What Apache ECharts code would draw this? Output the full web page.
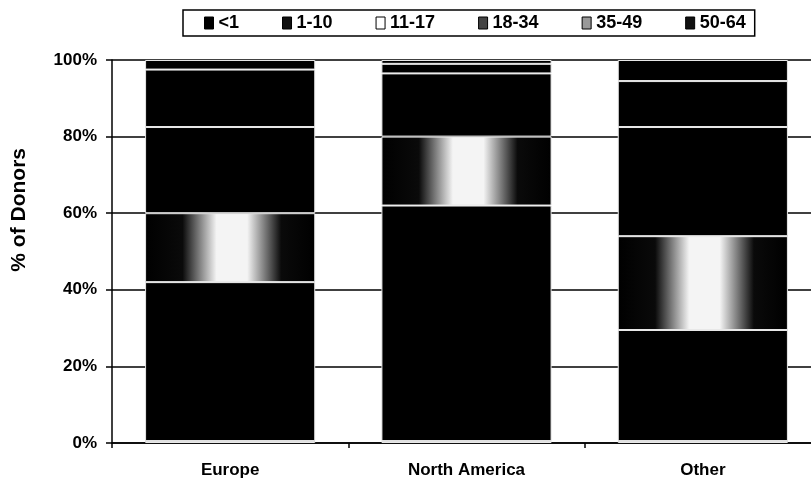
<!DOCTYPE html>
<html><head><meta charset="utf-8">
<script src="https://cdn.jsdelivr.net/npm/echarts@6/dist/echarts.min.js"></script>
<style>html,body{margin:0;padding:0;background:#fff}#c{width:811px;height:480px}</style>
</head><body><div id="c"></div>
<script>
const categories = ['Europe', 'North America', 'Other'];
const seriesNames = ['<1', '1-10', '11-17', '18-34', '35-49', '50-64'];
const lt1 = [0.5, 0.5, 0.5];
const s1to10 = [41.5, 61.5, 29];
const s11to17 = [18, 18, 24.5];
const s18to34 = [22.5, 16.5, 28.5];
const s35to49 = [15, 2.5, 12];
const s50to64 = [2.5, 1, 5.5];
const yTicks = [0, 20, 40, 60, 80, 100];
const yTitle = '% of Donors';

const values = [lt1, s1to10, s11to17, s18to34, s35to49, s50to64];
const grad = new echarts.graphic.LinearGradient(0, 0, 1, 0, [
  {offset: 0, color: '#000'}, {offset: 0.22, color: '#0a0a0a'},
  {offset: 0.42, color: '#f4f4f4'}, {offset: 0.6, color: '#f4f4f4'},
  {offset: 0.8, color: '#0a0a0a'}, {offset: 1, color: '#000'}
]);
const fills = ['#000', '#000', grad, '#000', '#000', '#000'];
const legendIcons = ['#000', '#111', '#fff', '#444', '#999', '#111'];
const font = 'Liberation Sans, Arial, sans-serif';

const chart = echarts.init(document.getElementById('c'));
chart.setOption({
  animation: false,
  backgroundColor: '#fff',
  legend: {
    data: seriesNames.map((n, i) => ({
      name: n,
      itemStyle: {color: legendIcons[i], borderColor: '#000', borderWidth: 1}
    })),
    left: 183, top: 10,
    padding: [4, 9, 4, 21],
    itemWidth: 9, itemHeight: 12, itemGap: 43,
    icon: 'rect',
    borderColor: '#000', borderWidth: 1.5,
    textStyle: {fontFamily: font, fontWeight: 'bold', fontSize: 18, color: '#000'}
  },
  grid: {left: 112, width: 709, top: 60, bottom: 37, outerBoundsMode: 'none', containLabel: false},
  graphic: [{
    type: 'text', left: 9, top: 148,
    rotation: Math.PI / 2,
    style: {text: yTitle, font: 'bold 21px Liberation Sans, Arial, sans-serif', fill: '#000'}
  }],
  xAxis: {
    type: 'category', data: categories,
    axisLine: {lineStyle: {color: '#000', width: 1.5}},
    axisTick: {show: true, length: 5, lineStyle: {color: '#000', width: 1.5}},
    axisLabel: {fontFamily: font, fontWeight: 'bold', fontSize: 17, color: '#000', margin: 19}
  },
  yAxis: {
    type: 'value', min: 0, max: 100, interval: 20,
    axisLine: {show: true, lineStyle: {color: '#000', width: 1.5}},
    axisTick: {show: true, length: 6, lineStyle: {color: '#000', width: 1.5}},
    splitLine: {show: true, lineStyle: {color: '#000', width: 1.5}},
    axisLabel: {fontFamily: font, fontWeight: 'bold', fontSize: 17, color: '#000', margin: 15,
      formatter: v => yTicks.includes(v) ? v + '%' : ''}
  },
  series: seriesNames.map((n, i) => ({
    name: n, type: 'bar', stack: 'total', barWidth: '72%',
    data: values[i],
    itemStyle: {color: fills[i], borderColor: '#e8e8e8', borderWidth: 1}
  }))
});
</script></body></html>
